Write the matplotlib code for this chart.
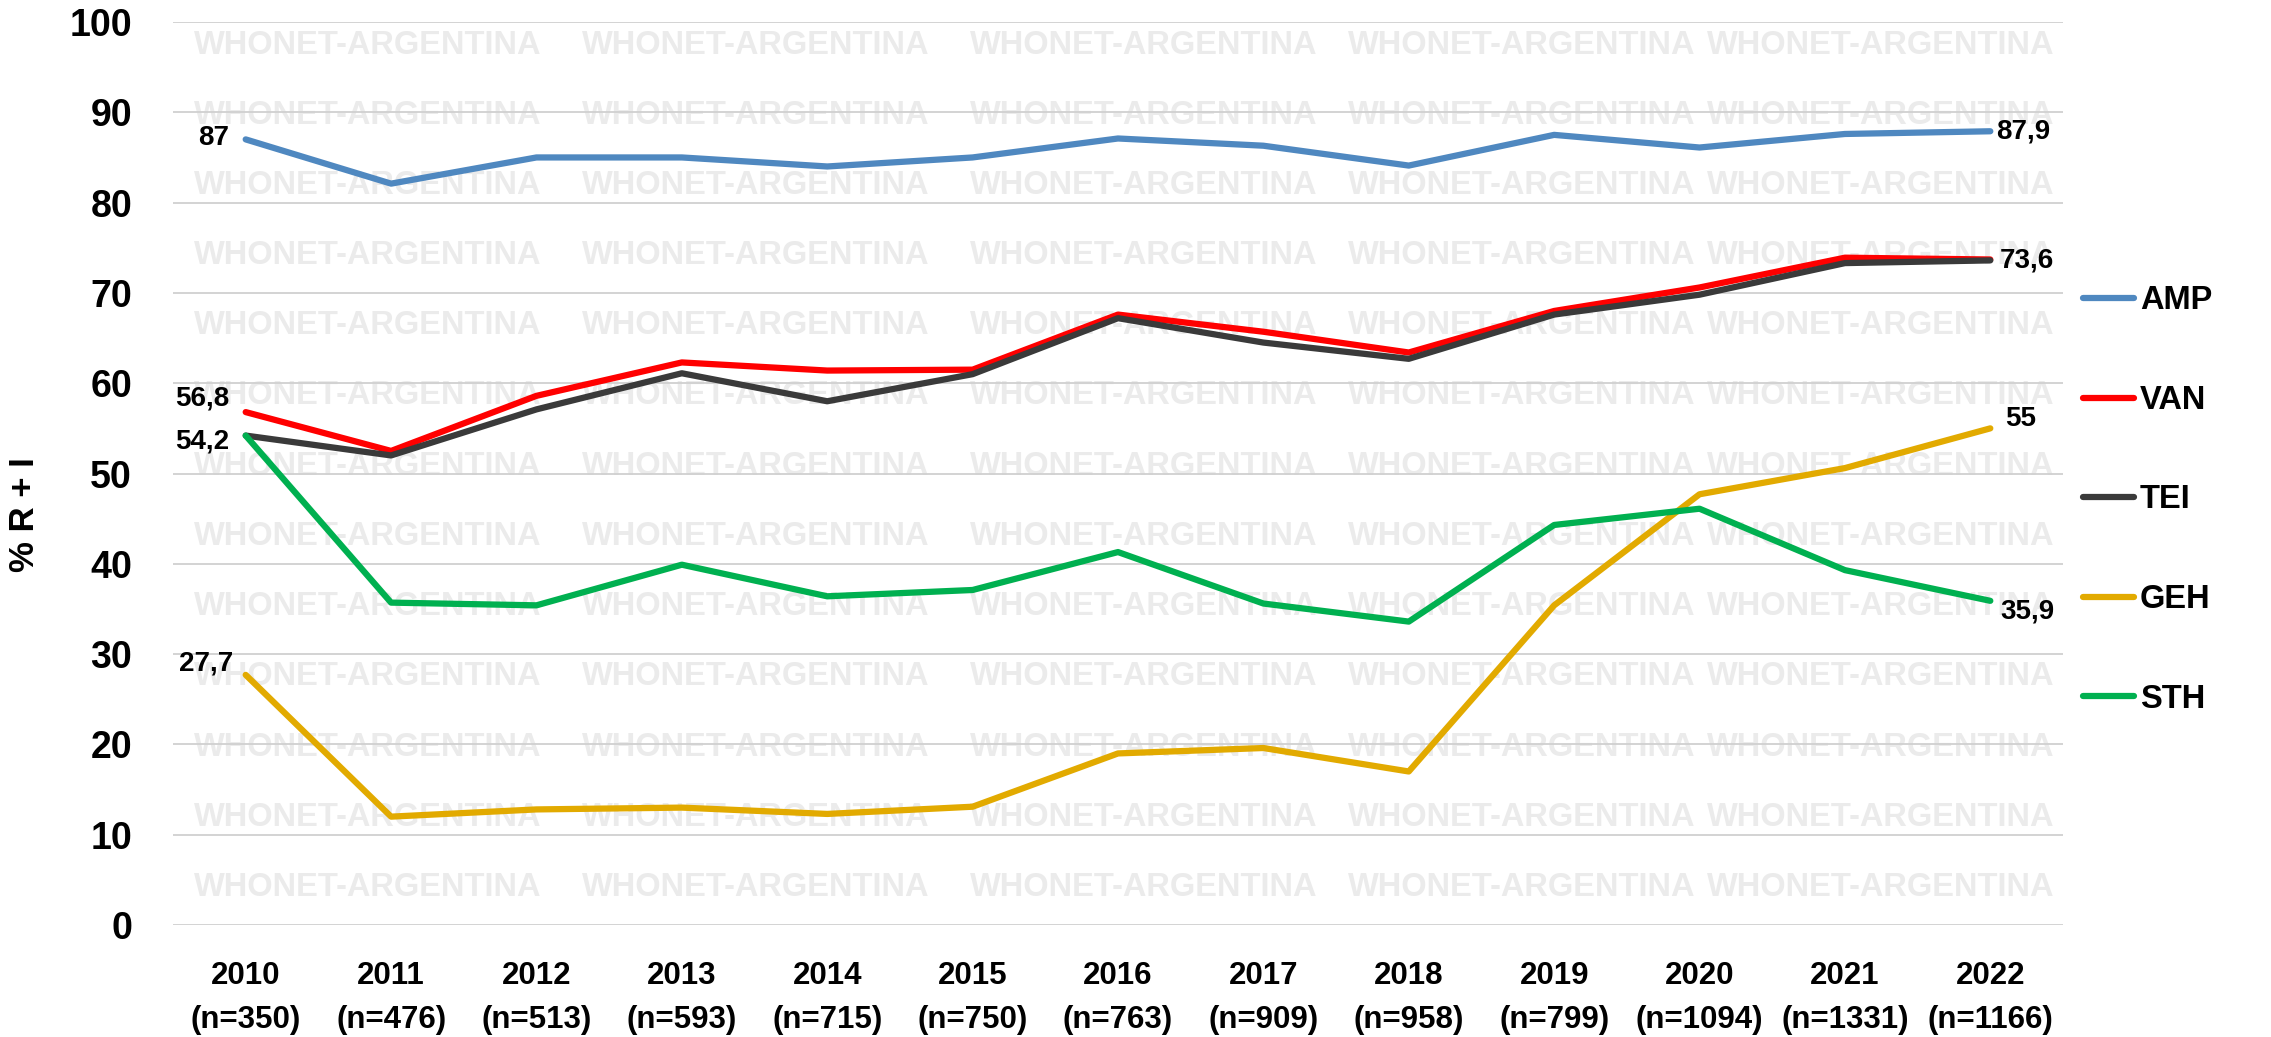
import numpy as np
import matplotlib.pyplot as plt

# datos
years = ['2010', '2011', '2012', '2013', '2014', '2015', '2016',
         '2017', '2018', '2019', '2020', '2021', '2022']
n_aisl = [350, 476, 513, 593, 715, 750, 763, 909, 958, 799, 1094, 1331, 1166]

amp = [87.0, 82.1, 85.0, 85.0, 84.0, 85.0, 87.1, 86.3, 84.1, 87.5, 86.1, 87.6, 87.9]
van = [56.8, 52.5, 58.6, 62.3, 61.4, 61.5, 67.6, 65.7, 63.4, 68.0, 70.6, 73.9, 73.7]
tei = [54.2, 52.0, 57.1, 61.1, 58.0, 61.0, 67.2, 64.5, 62.7, 67.6, 69.8, 73.3, 73.6]
geh = [27.7, 12.0, 12.8, 13.0, 12.3, 13.1, 19.0, 19.6, 17.0, 35.4, 47.7, 50.6, 55.0]
sth = [54.2, 35.7, 35.4, 39.9, 36.4, 37.1, 41.3, 35.6, 33.6, 44.3, 46.1, 39.3, 35.9]

series = ['AMP', 'VAN', 'TEI', 'GEH', 'STH']
valores = [amp, van, tei, geh, sth]
colores = ['#4F88C0', '#FF0000', '#3A3A3A', '#E2AA00', '#00B050']

plt.rcParams['font.family'] = ['Liberation Sans', 'DejaVu Sans']
plt.rcParams['font.weight'] = 'bold'

fig = plt.figure(figsize=(22.71, 10.37), dpi=100)
ax = fig.add_axes([173/2271, 112/1037, 1890/2271, 903/1037])
ax.patch.set_alpha(0)
ax.set_zorder(2)

# marca de agua (detras del grafico)
for k in range(13):
    yy = 1 - (45 + k*70.2)/1037
    for xc in [368, 756, 1144, 1522, 1881]:
        fig.text(xc/2271, yy, 'WHONET-ARGENTINA', ha='center', va='center',
                 fontsize=23.5, color='#EBEBEB', weight='bold', zorder=0)

x = np.arange(len(years))
for nombre, v, c in zip(series, valores, colores):
    ax.plot(x, v, color=c, lw=4.5, label=nombre, solid_capstyle='round',
            solid_joinstyle='round', zorder=3)

# etiquetas de datos (inicio y fin)
etiq = [
    (0, amp[0], '87', (-12, 1), 'right'),
    (0, van[0], '56,8', (-12, 10), 'right'),
    (0, tei[0], '54,2', (-12, -4), 'right'),
    (0, geh[0], '27,7', (-9, 8), 'right'),
    (12, amp[12], '87,9', (4, 0), 'left'),
    (12, tei[12], '73,6', (7, 0), 'left'),
    (12, geh[12], '55', (11, 7), 'left'),
    (12, sth[12], '35,9', (7, -8), 'left'),
]
for xi, yi, txt, off, ha in etiq:
    ax.annotate(txt, (xi, yi), xytext=off, textcoords='offset points',
                ha=ha, va='center', fontsize=20, weight='bold', zorder=5)

ax.set_xlim(-0.5, 12.5)
ax.set_ylim(0, 100)
ax.set_yticks(np.arange(0, 101, 10))
ax.set_xticks(x)
ax.set_xticklabels([f'{a}\n(n={b})' for a, b in zip(years, n_aisl)],
                   linespacing=1.6)
ax.tick_params(axis='y', length=0, pad=29.5, labelsize=27)
ax.tick_params(axis='x', length=0, pad=26, labelsize=22.5)
for lab in ax.get_xticklabels() + ax.get_yticklabels():
    lab.set_fontweight('bold')

ax.grid(axis='y', color='#D0D0D0', lw=1.3, zorder=1)
ax.set_axisbelow(True)
for s in ax.spines.values():
    s.set_visible(False)

fig.text(25/2271, 1 - 515/1037, '% R + I', rotation=90, ha='center',
         va='center', fontsize=25, weight='bold')

leg = fig.legend(loc='center left', bbox_to_anchor=(2083/2271, 1 - 500/1037),
                 frameon=False, fontsize=23.5, handlelength=1.55,
                 handletextpad=0.2, labelspacing=2.1, borderpad=0,
                 borderaxespad=0)
for t in leg.get_texts():
    t.set_fontweight('bold')
for h in leg.get_lines():
    h.set_linewidth(4.5)
    h.set_solid_capstyle('round')

plt.savefig('out.png', dpi=100)
